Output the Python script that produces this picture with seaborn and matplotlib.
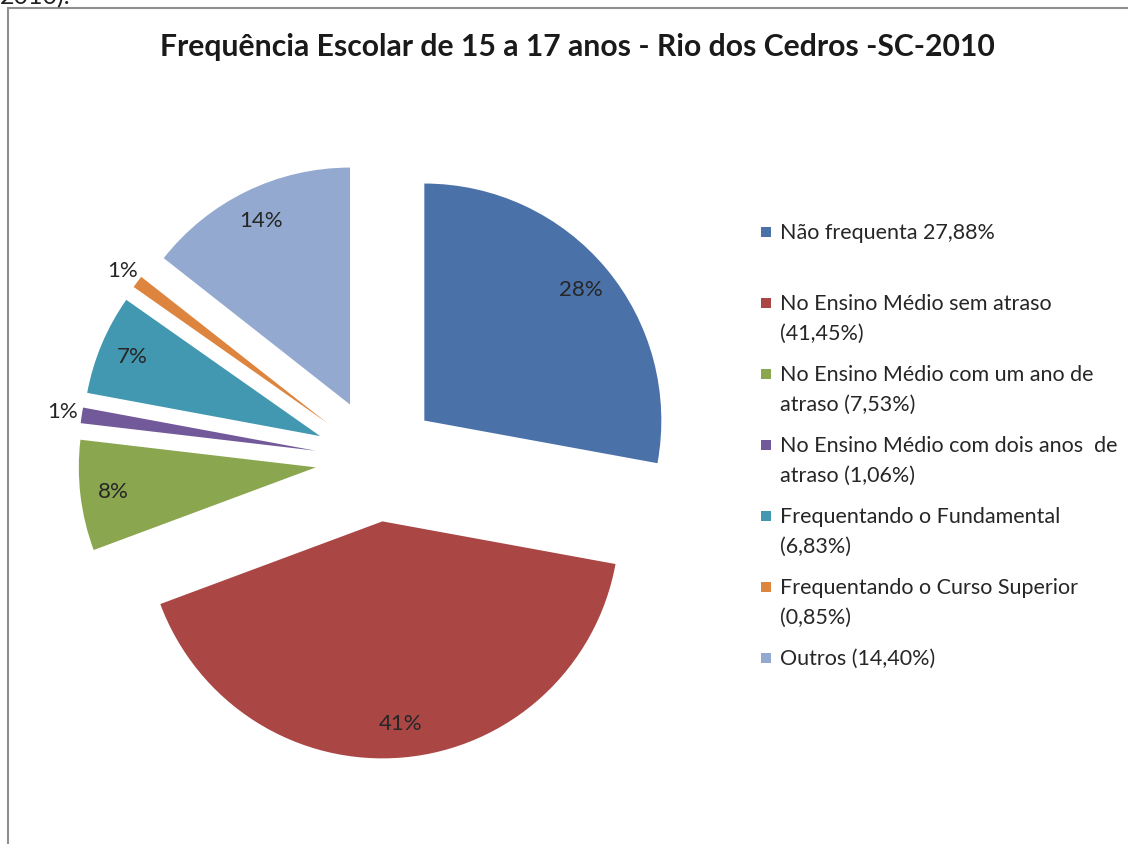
import numpy as np
import seaborn as sns
import matplotlib.pyplot as plt
from matplotlib.patches import Rectangle

sns.set_theme(style="white")
plt.rcParams["font.family"] = ["Lato", "DejaVu Sans"]

# data
categories = ["Não frequenta 27,88%",
              "No Ensino Médio sem atraso\n(41,45%)",
              "No Ensino Médio com um ano de\natraso (7,53%)",
              "No Ensino Médio com dois anos  de\natraso (1,06%)",
              "Frequentando o Fundamental\n(6,83%)",
              "Frequentando o Curso Superior\n(0,85%)",
              "Outros (14,40%)"]
values = [27.88, 41.45, 7.53, 1.06, 6.83, 0.85, 14.40]
colors = ["#4A71A8", "#AA4644", "#8AA64F", "#72599A", "#4298B0", "#DD853E", "#93A9D0"]
title = "Frequência Escolar de 15 a 17 anos - Rio dos Cedros -SC-2010"

W, H = 1128, 844
fig = plt.figure(figsize=(W / 100, H / 100), dpi=100)

# chart border (clipped by the page)
fig.patches.append(Rectangle((8 / W, -0.1), 1.2, 1.1 - 8 / H, transform=fig.transFigure,
                             fill=False, edgecolor="#8f8f8f", linewidth=1.5))
fig.text(0 / W, 1 - 4 / H, "2010).", fontsize=18, color="#222222", va="baseline")

# pie axes: centre (377, 460) px, radius 237 px
R = 237
half = 1.4
ax = fig.add_axes([(377 - half * R) / W, (H - 460 - half * R) / H, 2 * half * R / W, 2 * half * R / H])
ax.axis("off")

wedges, _ = ax.pie(values, colors=colors, startangle=90, counterclock=False,
                   explode=[0.26] * len(values), radius=1,
                   wedgeprops=dict(linewidth=0))
ax.set_xlim(-half, half)
ax.set_ylim(-half, half)

for w, v in zip(wedges, values):
    ang = np.deg2rad((w.theta1 + w.theta2) / 2)
    cx, cy = w.center
    d = 0.86 if v > 3 else 1.08
    ax.text(cx + d * np.cos(ang), cy + d * np.sin(ang), f"{round(v):.0f}%",
            ha="center", va="center", fontsize=16, color="#262626")

fig.text(577 / W, 1 - 47 / H, title, ha="center", va="center",
         fontsize=21.7, fontweight="bold", color="#1a1a1a")

# legend
y0 = 231
for i, (lab, c) in enumerate(zip(categories, colors)):
    y = y0 + i * 71
    fig.patches.append(Rectangle((761 / W, 1 - (y + 6) / H), 10 / W, 10 / H,
                                 transform=fig.transFigure, facecolor=c, edgecolor="none"))
    fig.text(780 / W, 1 - (y - 8) / H, lab, ha="left", va="top", fontsize=15.5,
             color="#262626", linespacing=1.6)

fig.savefig("out.png", dpi=100)
